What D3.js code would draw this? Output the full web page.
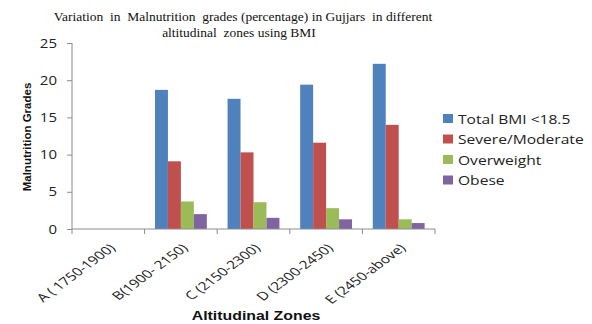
<!DOCTYPE html>
<html>
<head>
<meta charset="UTF-8">
<title>Malnutrition grades in Gujjars</title>
<script src="https://cdn.jsdelivr.net/npm/d3@7"></script>
<style>
  body { margin: 0; background: #fff; }
  svg { display: block; }
</style>
</head>
<body>
<script>
  // zones on the x axis
  const zones = ["A ( 1750-1900)", "B(1900- 2150)", "C (2150-2300)", "D (2300-2450)", "E (2450-above)"];
  // series names (legend)
  const series = ["Total BMI <18.5", "Severe/Moderate", "Overweight", "Obese"];
  // values per series, one per zone (zone A has no bars)
  const totalBmi = [0, 18.7, 17.5, 19.4, 22.2];
  const severe = [0, 9.1, 10.3, 11.6, 14.0];
  const overweight = [0, 3.7, 3.6, 2.8, 1.3];
  const obese = [0, 2.0, 1.5, 1.3, 0.8];
  const yTicks = [0, 5, 10, 15, 20, 25];

  const colors = ["#4F81BD", "#C0504D", "#9BBB59", "#8064A2"];
  const values = [totalBmi, severe, overweight, obese];

  const w = 592, h = 324;
  const plotLeft = 72, plotRight = 435, plotTop = 43, plotBottom = 229;
  // the source picture is a bit stretched sideways, so text is widened too
  const stretch = 1.2;

  const svg = d3.select("body").append("svg")
    .attr("width", w)
    .attr("height", h);

  const x0 = d3.scaleBand().domain(zones).range([plotLeft, plotRight]).padding(0);
  const x1 = d3.scaleBand().domain(series).range([0, x0.bandwidth()]).paddingOuter(0.8).paddingInner(0);
  const y = d3.scaleLinear().domain([0, 25]).range([plotBottom, plotTop]);

  // title (two lines, serif)
  const title = svg.append("text")
    .attr("text-anchor", "middle")
    .style("font-family", "'Liberation Serif', serif")
    .style("font-size", "13.5px")
    .style("white-space", "pre")
    .attr("fill", "#111");
  title.append("tspan").attr("x", 243).attr("y", 21)
    .text("Variation  in  Malnutrition  grades (percentage) in Gujjars  in different");
  title.append("tspan").attr("x", 239).attr("y", 37)
    .text("altitudinal  zones using BMI");

  // bars
  series.forEach((s, si) => {
    svg.append("g").selectAll("rect")
      .data(zones.map((z, i) => ({ zone: z, v: values[si][i] })))
      .enter()
      .append("rect")
      .attr("x", d => x0(d.zone) + x1(s))
      .attr("y", d => y(d.v))
      .attr("width", x1.bandwidth())
      .attr("height", d => y(0) - y(d.v))
      .attr("fill", colors[si]);
  });

  // y axis
  const yAxis = d3.axisLeft(y).tickValues(yTicks).tickSize(5).tickPadding(10);
  const gy = svg.append("g")
    .attr("transform", "translate(" + plotLeft + ",0)")
    .call(yAxis);
  gy.select(".domain").attr("stroke", "#8c8c8c").attr("d", "M0," + y(0) + "V" + y(25));
  gy.selectAll(".tick line").attr("stroke", "#8c8c8c");
  gy.selectAll(".tick text")
    .attr("x", 0)
    .attr("transform", "translate(-15,0) scale(" + stretch + ",1)")
    .style("font-family", "'Open Sans', sans-serif")
    .style("font-size", "12.5px")
    .attr("fill", "#222");

  // x axis
  const xAxis = d3.axisBottom(x0).tickSize(0).tickFormat("");
  const gx = svg.append("g")
    .attr("transform", "translate(0," + plotBottom + ")")
    .call(xAxis);
  gx.select(".domain").attr("stroke", "#8c8c8c").attr("d", "M" + plotLeft + ",0H" + plotRight);
  // boundary ticks between categories
  gx.selectAll(".bound")
    .data(zones.concat(["end"]))
    .enter()
    .append("line")
    .attr("x1", (d, i) => plotLeft + i * x0.bandwidth())
    .attr("x2", (d, i) => plotLeft + i * x0.bandwidth())
    .attr("y1", 0)
    .attr("y2", 5)
    .attr("stroke", "#8c8c8c");

  // rotated category labels
  svg.append("g").selectAll("text")
    .data(zones)
    .enter()
    .append("text")
    .attr("transform", d => "translate(" + (x0(d) + x0.bandwidth() / 2 + 4) + ",246) scale(1.35,1) rotate(-45)")
    .attr("text-anchor", "end")
    .attr("dy", "0.35em")
    .style("font-family", "'Open Sans', sans-serif")
    .style("font-size", "11.5px")
    .attr("fill", "#222")
    .text(d => d);

  // axis titles
  svg.append("text")
    .attr("transform", "translate(256,320) scale(1.22,1)")
    .attr("text-anchor", "middle")
    .style("font-family", "'Liberation Sans', sans-serif")
    .style("font-weight", "bold")
    .style("font-size", "13px")
    .attr("fill", "#111")
    .text("Altitudinal Zones");

  svg.append("text")
    .attr("transform", "translate(31,137) rotate(-90)")
    .attr("text-anchor", "middle")
    .style("font-family", "'Liberation Sans', sans-serif")
    .style("font-weight", "bold")
    .style("font-size", "11.5px")
    .attr("fill", "#111")
    .text("Malnutrition Grades");

  // legend
  const legend = svg.append("g").attr("transform", "translate(443,114)");
  series.forEach((s, i) => {
    const row = legend.append("g").attr("transform", "translate(0," + (i * 20.5) + ")");
    row.append("rect")
      .attr("width", 10)
      .attr("height", 9)
      .attr("fill", colors[i]);
    row.append("text")
      .attr("transform", "translate(15,9.5) scale(" + stretch + ",1)")
      .style("font-family", "'Open Sans', sans-serif")
      .style("font-size", "13px")
      .attr("fill", "#222")
      .text(s);
  });
</script>
</body>
</html>
